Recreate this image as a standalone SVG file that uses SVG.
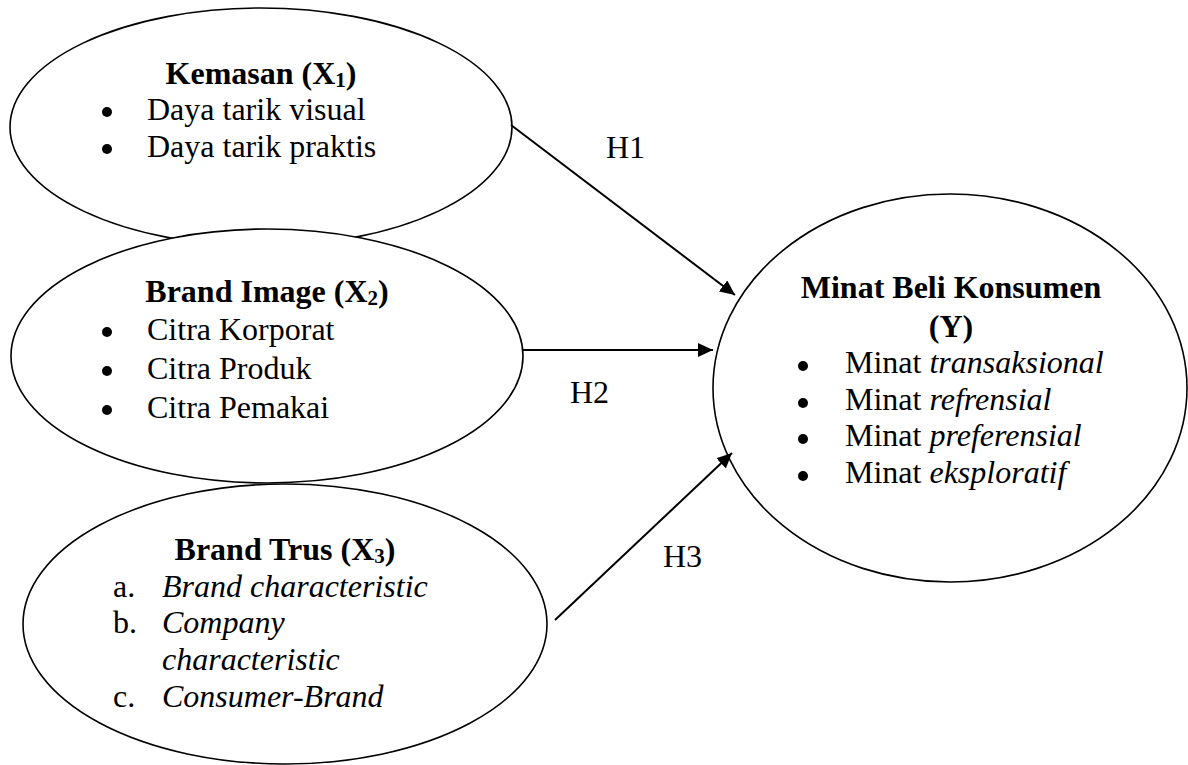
<svg xmlns="http://www.w3.org/2000/svg" width="1188" height="765" viewBox="0 0 1188 765">
<style>
  .shape { fill: #ffffff; stroke: #000000; stroke-width: 1.6; }
  text { font-family: "Liberation Serif", "Times New Roman", serif; font-size: 32px; fill: #000000; }
  .title { font-weight: bold; text-anchor: middle; }
  .it { font-style: italic; }
  .sub { font-size: 21px; }
  .dot { fill: #000000; }
  .conn line { stroke: #000000; stroke-width: 2; fill: none; marker-end: url(#arrow); }
</style>
<defs>
  <marker id="arrow" markerUnits="userSpaceOnUse" markerWidth="16" markerHeight="14" refX="15" refY="7" orient="auto">
    <path d="M0,0 L15,7 L0,14 z" fill="#000000"/>
  </marker>
</defs>
<rect width="1188" height="765" fill="#ffffff"/>

<g id="node-kemasan">
  <ellipse class="shape" cx="261" cy="127" rx="251" ry="119"/>
  <text class="title" x="261" y="84">Kemasan (X<tspan class="sub" dy="3">1</tspan><tspan dy="-3">)</tspan></text>
  <circle class="dot" cx="107" cy="112" r="5"/>
  <text x="147" y="120">Daya tarik visual</text>
  <circle class="dot" cx="107" cy="149" r="5"/>
  <text x="147" y="157">Daya tarik praktis</text>
</g>

<g id="node-brand-image">
  <ellipse class="shape" cx="267" cy="356" rx="256" ry="127"/>
  <text class="title" x="267" y="302">Brand Image (X<tspan class="sub" dy="3">2</tspan><tspan dy="-3">)</tspan></text>
  <circle class="dot" cx="107" cy="332" r="5"/>
  <text x="147" y="340">Citra Korporat</text>
  <circle class="dot" cx="107" cy="371" r="5"/>
  <text x="147" y="379">Citra Produk</text>
  <circle class="dot" cx="107" cy="410" r="5"/>
  <text x="147" y="418">Citra Pemakai</text>
</g>

<g id="node-brand-trus">
  <ellipse class="shape" cx="285" cy="624" rx="262" ry="140"/>
  <text class="title" x="285" y="560">Brand Trus (X<tspan class="sub" dy="3">3</tspan><tspan dy="-3">)</tspan></text>
  <text x="113" y="597">a.</text>
  <text class="it" x="162" y="597">Brand characteristic</text>
  <text x="113" y="633">b.</text>
  <text class="it" x="162" y="633">Company</text>
  <text class="it" x="162" y="670">characteristic</text>
  <text x="113" y="707">c.</text>
  <text class="it" x="162" y="707">Consumer-Brand</text>
</g>

<g id="node-minat-beli">
  <ellipse class="shape" cx="950" cy="388" rx="237" ry="194"/>
  <text class="title" x="951" y="298">Minat Beli Konsumen</text>
  <text class="title" x="951" y="337">(Y)</text>
  <circle class="dot" cx="803" cy="366" r="5"/>
  <text x="845" y="373">Minat <tspan class="it">transaksional</tspan></text>
  <circle class="dot" cx="803" cy="403" r="5"/>
  <text x="845" y="410">Minat <tspan class="it">refrensial</tspan></text>
  <circle class="dot" cx="803" cy="439" r="5"/>
  <text x="845" y="446">Minat <tspan class="it">preferensial</tspan></text>
  <circle class="dot" cx="803" cy="476" r="5"/>
  <text x="845" y="483">Minat <tspan class="it">eksploratif</tspan></text>
</g>

<g id="connectors" class="conn">
  <line x1="511" y1="125" x2="735" y2="295"/>
  <line x1="523" y1="350" x2="713" y2="350"/>
  <line x1="555" y1="620" x2="732" y2="453"/>
  <text x="606" y="158">H1</text>
  <text x="570" y="403">H2</text>
  <text x="663" y="567">H3</text>
</g>
</svg>
